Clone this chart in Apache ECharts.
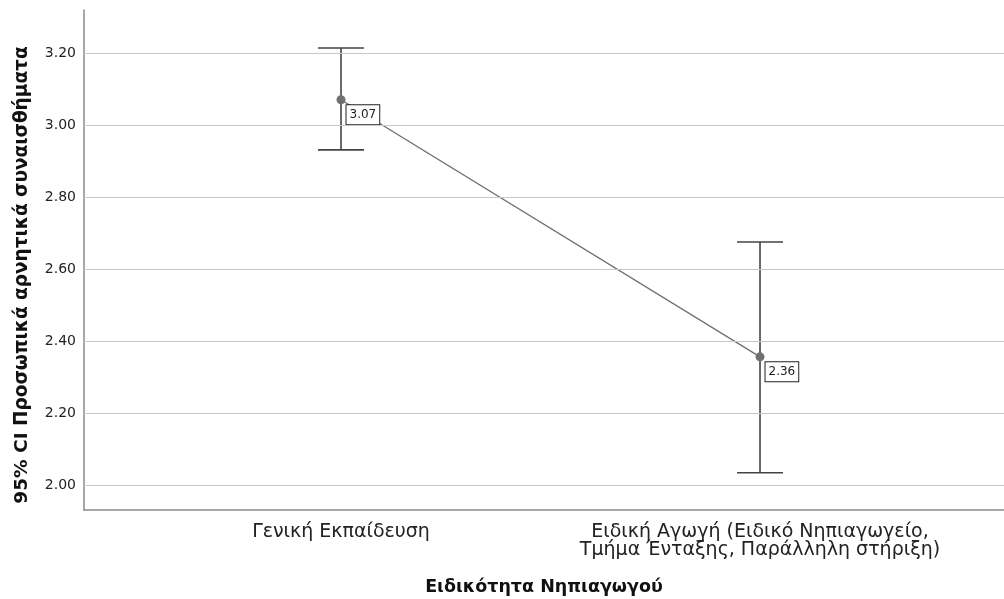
<!DOCTYPE html>
<html><head><meta charset="utf-8">
<script src="https://cdn.jsdelivr.net/npm/echarts@6/dist/echarts.min.js"></script>
<style>html,body{margin:0;padding:0;background:#fff}#c{width:1004px;height:599px}</style>
</head><body><div id="c"></div>
<script>
const categories = ['Γενική Εκπαίδευση', 'Ειδική Αγωγή (Ειδικό Νηπιαγωγείο,\nΤμήμα Ένταξης, Παράλληλη στήριξη)'];
const means = [3.07, 2.356];
const ciLower = [2.931, 2.034];
const ciUpper = [3.214, 2.675];
const yTicks = [2.0, 2.2, 2.4, 2.6, 2.8, 3.0, 3.2];
const FONT = 'DejaVu Sans';

const chart = echarts.init(document.getElementById('c'));
chart.setOption({
  animation: false,
  grid: {left: 84, right: 0, top: 10, bottom: 89, outerBoundsMode: 'none', containLabel: false},
  xAxis: {
    type: 'value', min: -0.6134, max: 1.5823,
    name: 'Ειδικότητα Νηπιαγωγού', nameLocation: 'middle', nameGap: 68,
    nameTextStyle: {fontFamily: FONT, fontSize: 17.5, fontWeight: 'bold', color: '#111'},
    axisLine: {show: true, onZero: false, lineStyle: {color: '#8a8a8a', width: 1.5}},
    axisTick: {show: false},
    splitLine: {show: false},
    axisLabel: {
      customValues: [0, 1],
      formatter: v => categories[Math.round(v)],
      fontFamily: FONT, fontSize: 19, color: '#222', margin: 13, lineHeight: 18
    }
  },
  yAxis: {
    type: 'value', min: 1.9306, max: 3.3194,
    name: '95% CI Προσωπικά αρνητικά συναισθήματα', nameLocation: 'middle', nameGap: 52,
    nameTextStyle: {fontFamily: FONT, fontSize: 18.5, fontWeight: 'bold', color: '#111', padding: [0, 30, 0, 0]},
    axisLine: {show: true, onZero: false, lineStyle: {color: '#8a8a8a', width: 1.5}},
    axisTick: {show: false},
    splitLine: {show: false},
    axisLabel: {
      customValues: yTicks,
      formatter: v => v.toFixed(2),
      fontFamily: FONT, fontSize: 14, color: '#222', margin: 8
    }
  },
  series: [
    {
      type: 'custom',
      renderItem: (params, api) => {
        const x = api.value(0);
        const lo = api.coord([x, api.value(1)]);
        const hi = api.coord([x, api.value(2)]);
        const hw = 23;
        const st = {stroke: '#444', lineWidth: 1.6};
        return {type: 'group', children: [
          {type: 'line', shape: {x1: lo[0], y1: lo[1], x2: hi[0], y2: hi[1]}, style: st},
          {type: 'line', shape: {x1: lo[0]-hw, y1: lo[1], x2: lo[0]+hw, y2: lo[1]}, style: st},
          {type: 'line', shape: {x1: hi[0]-hw, y1: hi[1], x2: hi[0]+hw, y2: hi[1]}, style: st}
        ]};
      },
      data: categories.map((c, i) => [i, ciLower[i], ciUpper[i]]),
      markLine: {
        silent: true, symbol: 'none', label: {show: false},
        lineStyle: {color: '#c8c8c8', width: 1, type: 'solid'},
        data: yTicks.map(v => ({yAxis: v}))
      },
      z: 2
    },
    {
      type: 'line',
      data: categories.map((c, i) => [i, means[i]]),
      symbol: 'circle', symbolSize: 9,
      lineStyle: {color: '#707070', width: 1.3},
      itemStyle: {color: '#707070'},
      label: {
        show: true, position: 'right',
        formatter: p => p.value[1].toFixed(2),
        offset: [-4, 15],
        fontFamily: FONT, fontSize: 12, color: '#222',
        backgroundColor: '#fff', borderColor: '#222', borderWidth: 1,
        padding: [4, 3, 3, 3]
      },
      z: 3
    }
  ]
});
</script></body></html>
